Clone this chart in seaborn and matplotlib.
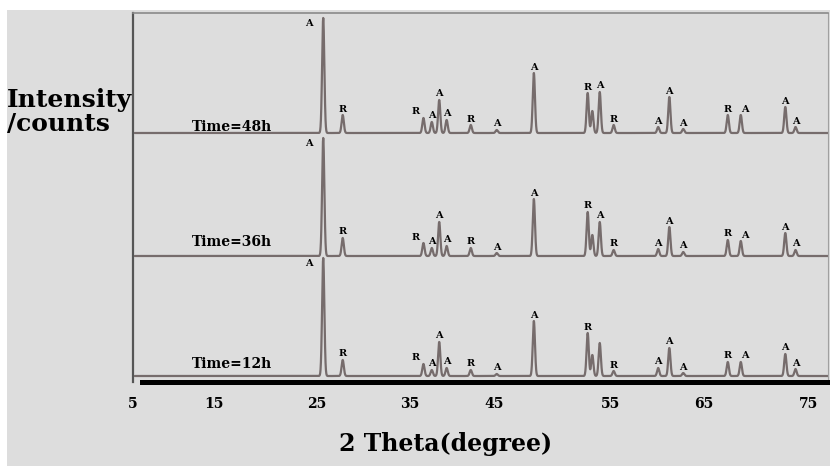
import numpy as np
import pandas as pd
import matplotlib
matplotlib.use("Agg")
import matplotlib.pyplot as plt
from matplotlib.patches import Rectangle
import seaborn as sns

# Reflections common to the three patterns (2θ in degrees) and their phase
peak_2theta = [25.3, 27.4, 36.1, 37.0, 37.8, 38.6, 41.2, 44.0, 48.0, 53.8,
               54.3, 55.1, 56.6, 61.4, 62.6, 64.1, 68.9, 70.3, 75.1, 76.2]
peak_phase = ["A", "R", "R", "A", "A", "A", "R", "A", "A", "R",
              "", "A", "R", "A", "A", "A", "R", "A", "A", "A"]

# Peak intensities (counts) for each hydrothermal time
times = ["Time=48h", "Time=36h", "Time=12h"]
heights_48h = [115, 18, 15, 11, 33, 13, 8, 3, 60, 40, 22, 41, 8, 6, 36, 4, 18, 18, 26, 6]
heights_36h = [118, 18, 13, 8, 34, 10, 8, 3, 57, 44, 21, 34, 6, 7, 29, 4, 16, 15, 23, 6]
heights_12h = [118, 16, 12, 6, 34, 8, 6, 2, 55, 43, 21, 33, 5, 8, 28, 3, 14, 14, 22, 7]

# The 12 h pattern carries no phase mark on the 55.1° reflection
hidden_marks = {"Time=12h": [55.1]}

# Tick labels along the 2θ axis
tick_labels = ["5", "15", "25", "35", "45", "55", "65", "75"]

# ---- layout / style ----
stack_offset = {"Time=48h": 249, "Time=36h": 126, "Time=12h": 6}
time_label_lift = {"Time=48h": 6, "Time=36h": 14, "Time=12h": 12}
tick_pos = [4.8, 13.5, 24.6, 34.6, 43.7, 56.3, 66.3, 77.6]
mark_dx = {36.1: -0.8, 70.3: 0.4}
peak_sigma = 0.12
bg = "#dddddd"
trace_color = "#766c6c"
serif = ["DejaVu Serif"]

heights = {"Time=48h": heights_48h, "Time=36h": heights_36h, "Time=12h": heights_12h}

two_theta = np.arange(5.0, 79.8, 0.01)
frames = []
for t in times:
    prof = np.zeros_like(two_theta)
    for p, h in zip(peak_2theta, heights[t]):
        prof += h * np.exp(-0.5 * ((two_theta - p) / peak_sigma) ** 2)
    frames.append(pd.DataFrame({"two_theta": two_theta,
                                "intensity": prof + stack_offset[t],
                                "time": t}))
df = pd.concat(frames, ignore_index=True)

sns.set_theme(style="white")
plt.rcParams["font.family"] = serif
plt.rcParams["font.weight"] = "bold"

fig = plt.figure(figsize=(8.3, 4.66), dpi=100, facecolor="white")
fig.patches.append(Rectangle((7 / 830, 0), 1, 1 - 10 / 466, transform=fig.transFigure,
                             facecolor=bg, edgecolor="none", zorder=-10))
ax = fig.add_axes([133 / 830, 1 - 382 / 466, 695 / 830, 369 / 466])
ax.set_facecolor(bg)

sns.lineplot(data=df, x="two_theta", y="intensity", hue="time",
             palette=[trace_color] * 3, estimator=None, sort=False,
             legend=False, linewidth=1.6, ax=ax)

ax.set_xlim(5.0, 79.7)
ax.set_ylim(0, 369)

# Phase marks above the reflections
for t in times:
    off = stack_offset[t]
    for p, ph, h in zip(peak_2theta, peak_phase, heights[t]):
        if not ph or p in hidden_marks.get(t, []):
            continue
        if h > 100:
            ax.text(p - 1.5, off + h - 6, ph, ha="center", va="center",
                    fontsize=7, fontweight="bold", color="black")
        else:
            ax.text(p + mark_dx.get(p, 0), off + h + 1.5, ph, ha="center",
                    va="bottom", fontsize=7, fontweight="bold", color="black")
    ax.text(15.5, off + time_label_lift[t], t, ha="center", va="center",
            fontsize=10, fontweight="bold", color="black")

# Axes frame
ax.set_xticks(tick_pos)
ax.set_xticklabels(tick_labels)
ax.set_yticks([])
ax.tick_params(axis="x", length=0, pad=11, labelsize=10, colors="black")
for lab in ax.get_xticklabels():
    lab.set_fontweight("bold")
ax.spines["left"].set_color("#555555")
ax.spines["left"].set_linewidth(1.6)
ax.spines["top"].set_color("#8a8a8a")
ax.spines["top"].set_linewidth(1.2)
ax.spines["right"].set_color("#a0a0a0")
ax.spines["right"].set_linewidth(0.8)
ax.spines["bottom"].set_color("black")
ax.spines["bottom"].set_linewidth(3.6)
ax.spines["bottom"].set_bounds(5.75, 79.7)

ax.set_xlabel("2 Theta(degree)", fontsize=17, fontweight="bold", color="black")
ax.xaxis.set_label_coords(0.450, -0.168)
ax.xaxis.label.set_va("center")
ax.set_ylabel("Intensity\n/counts", fontsize=18, fontweight="bold", color="black",
              rotation=0, ha="left", va="center", multialignment="left",
              linespacing=1.0)
ax.yaxis.set_label_coords(-0.1813, 0.7317)

fig.savefig("out.png", dpi=100, facecolor=fig.get_facecolor())
